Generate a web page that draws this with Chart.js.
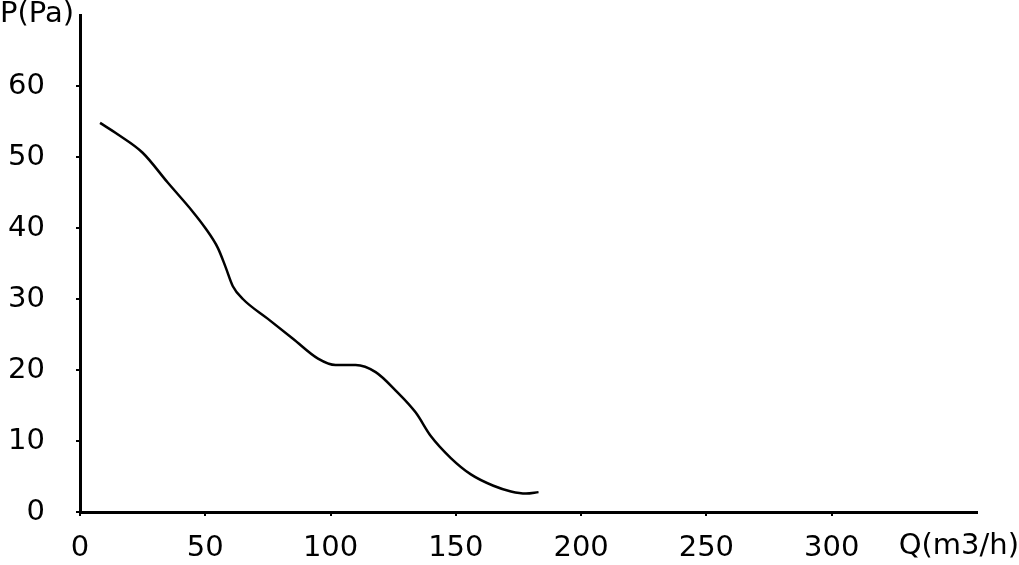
<!DOCTYPE html>
<html>
<head>
<meta charset="utf-8">
<script src="https://cdn.jsdelivr.net/npm/chart.js@4"></script>
<style>
  html, body { margin: 0; padding: 0; background: #fff; }
  #wrap { width: 1019px; height: 565px; }
</style>
</head>
<body>
<div id="wrap"><canvas id="chart" width="1019" height="565"></canvas></div>
<script>
// Flow (m3/h) vs pressure (Pa)
const flowQ = [8, 15, 25, 35, 45, 50, 55, 58, 61, 65, 75, 85, 95, 102, 110, 118, 126, 134, 140, 148, 156, 165, 172, 178, 183];
const pressureP = [54.8, 53.2, 50.6, 46.4, 42.3, 40, 37.2, 34.6, 31.8, 30, 27.2, 24.4, 21.6, 20.7, 20.7, 19.7, 17.1, 14, 10.7, 7.6, 5.3, 3.7, 2.9, 2.6, 2.8];
const xTicks = [0, 50, 100, 150, 200, 250, 300];
const yTicks = [0, 10, 20, 30, 40, 50, 60];
const xTitle = "Q(m3/h)";
const yTitle = "P(Pa)";

const FONT = "'DejaVu Sans'";
const FSIZE = 29;

const points = flowQ.map((q, i) => ({ x: q, y: pressureP[i] }));

// axis titles drawn at the corners
const titles = {
  id: "titles",
  afterDraw(chart) {
    const ctx = chart.ctx;
    ctx.save();
    ctx.fillStyle = "#000";
    ctx.font = FSIZE + "px " + FONT;
    ctx.textBaseline = "top";
    ctx.textAlign = "left";
    ctx.fillText(yTitle, 0, 0);
    ctx.textAlign = "right";
    ctx.fillText(xTitle, 1019, 532);
    ctx.restore();
  }
};

const ctx = document.getElementById("chart").getContext("2d");

new Chart(ctx, {
  type: "scatter",
  data: {
    datasets: [{
      data: points,
      showLine: true,
      borderColor: "#000",
      borderWidth: 2.5,
      pointRadius: 0,
      cubicInterpolationMode: "monotone",
      fill: false
    }]
  },
  options: {
    responsive: false,
    animation: false,
    layout: { padding: { top: 15, right: 42, left: 0, bottom: 0 } },
    plugins: {
      legend: { display: false },
      tooltip: { enabled: false }
    },
    scales: {
      x: {
        type: "linear",
        min: 0,
        max: 358,
        afterBuildTicks(scale) {
          scale.ticks = xTicks.map(v => ({ value: v }));
        },
        afterFit(scale) {
          scale.height = 53;
          scale.paddingLeft = 0;
          scale.paddingRight = 0;
        },
        ticks: {
          color: "#000",
          font: { family: FONT, size: FSIZE },
          padding: 15,
          maxRotation: 0
        },
        grid: {
          drawOnChartArea: false,
          drawTicks: true,
          tickLength: 4,
          color: "#000",
          lineWidth: 2
        },
        border: { display: true, color: "#000", width: 3 }
      },
      y: {
        type: "linear",
        min: 0,
        max: 70,
        afterBuildTicks(scale) {
          scale.ticks = yTicks.map(v => ({ value: v }));
        },
        afterFit(scale) {
          scale.width = 80;
          scale.paddingTop = 0;
          scale.paddingBottom = 0;
        },
        ticks: {
          color: "#000",
          font: { family: FONT, size: FSIZE },
          padding: 31
        },
        grid: {
          drawOnChartArea: false,
          drawTicks: true,
          tickLength: 4,
          color: "#000",
          lineWidth: 2
        },
        border: { display: true, color: "#000", width: 3 }
      }
    }
  },
  plugins: [titles]
});
</script>
</body>
</html>
